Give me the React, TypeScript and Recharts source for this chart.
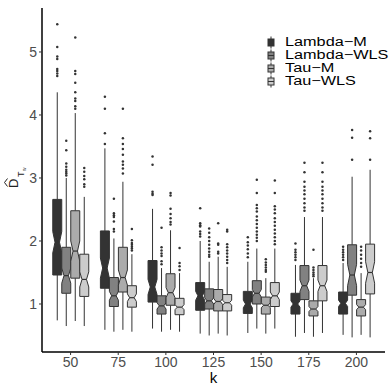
import { ComposedChart, Bar, XAxis, YAxis, Legend } from "recharts";

const ks = ["50", "75", "100", "125", "150", "175", "200"];
const yTicks = [1, 2, 3, 4, 5];
const seriesNames = ["Lambda−M", "Lambda−WLS", "Tau−M", "Tau−WLS"];
const seriesKeys = ["lm", "lw", "tm", "tw"];
const fills = ["#333333", "#818181", "#ababab", "#cccccc"];

// per k: [lower whisker, q1, median, q3, upper whisker, notch half-width]
const lambdaM = [
  [0.74, 1.46, 1.98, 2.66, 4.36, 0.17],
  [0.59, 1.25, 1.57, 2.16, 3.47, 0.16],
  [0.61, 1.03, 1.27, 1.69, 2.51, 0.12],
  [0.53, 0.9, 1.13, 1.34, 2.0, 0.07],
  [0.54, 0.85, 1.0, 1.2, 1.67, 0.06],
  [0.48, 0.84, 1.0, 1.17, 1.62, 0.05],
  [0.51, 0.84, 1.01, 1.19, 1.65, 0.05],
];
const lambdaWLS = [
  [0.65, 1.17, 1.45, 1.9, 3.0, 0.12],
  [0.56, 0.96, 1.13, 1.42, 2.04, 0.07],
  [0.56, 0.84, 0.97, 1.13, 1.57, 0.05],
  [0.5, 0.92, 1.05, 1.24, 1.67, 0.05],
  [0.61, 1.0, 1.17, 1.37, 1.88, 0.06],
  [0.54, 1.07, 1.29, 1.61, 2.38, 0.09],
  [0.47, 1.14, 1.46, 1.94, 3.02, 0.17],
];
const tauM = [
  [0.73, 1.41, 1.84, 2.48, 4.03, 0.16],
  [0.59, 1.19, 1.42, 1.9, 2.94, 0.12],
  [0.59, 0.98, 1.18, 1.48, 2.17, 0.08],
  [0.53, 0.89, 1.04, 1.23, 1.75, 0.05],
  [0.53, 0.84, 0.98, 1.11, 1.41, 0.04],
  [0.48, 0.81, 0.92, 1.05, 1.41, 0.04],
  [0.51, 0.81, 0.95, 1.07, 1.49, 0.04],
];
const tauWLS = [
  [0.65, 1.12, 1.39, 1.79, 2.7, 0.12],
  [0.56, 0.95, 1.1, 1.29, 1.79, 0.06],
  [0.56, 0.83, 0.95, 1.09, 1.49, 0.04],
  [0.5, 0.89, 1.02, 1.15, 1.59, 0.04],
  [0.61, 0.96, 1.13, 1.34, 1.88, 0.06],
  [0.54, 1.05, 1.29, 1.61, 2.38, 0.09],
  [0.47, 1.16, 1.5, 1.95, 3.13, 0.17],
];

const lambdaMOut = [
  [5.44, 5.08, 4.93, 4.89, 4.73, 4.7, 4.66, 4.62],
  [4.29, 4.1, 3.71, 3.54],
  [3.34, 3.21, 2.78, 2.75, 2.73],
  [2.52, 2.28, 2.25, 2.23, 2.15, 2.11, 2.07],
  [2.06, 1.98, 1.93, 1.87, 1.8, 1.74],
  [1.96, 1.86, 1.82, 1.78, 1.74, 1.7],
  [1.91, 1.86, 1.82, 1.78, 1.74, 1.7],
];
const lambdaWLSOut = [
  [3.59, 3.44, 3.23, 3.18, 3.13, 3.1, 3.07, 3.04],
  [2.67, 2.44, 2.41, 2.38, 2.31, 2.19, 2.15],
  [2.21, 1.9, 1.85, 1.8, 1.76, 1.68, 1.63],
  [2.2, 2.13, 2.06, 2.0, 1.94, 1.88, 1.83, 1.78, 1.75],
  [2.97, 2.76, 2.57, 2.52, 2.47, 2.39, 2.33, 2.27, 2.21, 2.15, 2.1, 2.05, 2.0],
  [3.24, 3.09, 2.94, 2.86, 2.8, 2.74, 2.67, 2.6, 2.53, 2.48],
  [3.76, 3.64, 3.29],
];
const tauMOut = [
  [5.23, 4.7, 4.65, 4.51, 4.36, 4.26, 4.22, 4.14, 4.1],
  [4.1, 3.63, 3.54, 3.46, 3.37, 3.26, 3.21, 3.15, 3.07],
  [2.76, 2.72, 2.51, 2.43, 2.36, 2.3, 2.26],
  [2.28, 1.96, 1.94, 1.83, 1.8],
  [1.71, 1.66, 1.62, 1.58, 1.54, 1.51],
  [1.86, 1.58, 1.54, 1.5, 1.47, 1.44],
  [1.91, 1.85, 1.78, 1.72, 1.65, 1.59],
];
const tauWLSOut = [
  [3.16, 3.1, 3.03, 2.98, 2.9, 2.86],
  [2.19, 2.01, 1.97, 1.94, 1.91, 1.88, 1.85],
  [1.89, 1.65, 1.6, 1.54],
  [2.18, 2.15, 1.95, 1.9, 1.85, 1.8, 1.75, 1.7, 1.65],
  [2.96, 2.76, 2.55, 2.5, 2.44, 2.36, 2.3, 2.24, 2.18, 2.12, 2.06, 2.0, 1.95],
  [3.24, 3.09, 2.94, 2.86, 2.8, 2.74, 2.67, 2.6, 2.53, 2.48],
  [3.74, 3.63, 3.29],
];

const stats = [lambdaM, lambdaWLS, tauM, tauWLS];
const outliers = [lambdaMOut, lambdaWLSOut, tauMOut, tauWLSOut];

// each bar spans the whisker range, the box is drawn inside it
const rows = ks.map((k, i) => {
  const r: any = { k };
  seriesKeys.forEach((key, s) => {
    r[key] = [stats[s][i][0], stats[s][i][4]];
  });
  return r;
});

const EDGE = "#333333";

function BoxShape(props: any) {
  const { x, y, width, height, index, s } = props;
  const [lo, q1, med, q3, hi, nh] = stats[s][index];
  const py = (v: number) => y + (height * (hi - v)) / (hi - lo);
  const cx = x + width / 2;
  const x0 = x;
  const x1 = x + width;
  const nw = width * 0.25;
  const pts = [
    [x0, py(q3)],
    [x0, py(med + nh)],
    [x0 + nw, py(med)],
    [x0, py(med - nh)],
    [x0, py(q1)],
    [x1, py(q1)],
    [x1, py(med - nh)],
    [x1 - nw, py(med)],
    [x1, py(med + nh)],
    [x1, py(q3)],
  ]
    .map((p) => p.join(","))
    .join(" ");
  return (
    <g>
      <line x1={cx} x2={cx} y1={py(hi)} y2={py(q3)} stroke={EDGE} strokeWidth={1} />
      <line x1={cx} x2={cx} y1={py(q1)} y2={py(lo)} stroke={EDGE} strokeWidth={1} />
      <polygon points={pts} fill={fills[s]} stroke={EDGE} strokeWidth={1} />
      <line x1={x0 + nw} x2={x1 - nw} y1={py(med)} y2={py(med)} stroke={EDGE} strokeWidth={1.2} />
      {outliers[s][index].map((v, j) => (
        <circle key={j} cx={cx} cy={py(v)} r={1.25} fill={EDGE} />
      ))}
    </g>
  );
}

function LegendBox(props: any) {
  const items = props.payload && props.payload.length ? props.payload : [];
  return (
    <div style={{ fontSize: 12.5, lineHeight: "13.1px", color: "#000", fontFamily: "'Liberation Sans', Arial, sans-serif" }}>
      {seriesNames.map((name, i) => (
        <div key={name} style={{ display: "flex", alignItems: "center", height: 13.1 }}>
          <svg width={10} height={13} style={{ marginRight: 9, flexShrink: 0 }}>
            <line x1={5} x2={5} y1={0.5} y2={12.5} stroke={EDGE} />
            <rect x={2} y={3} width={6} height={7} fill={(items[i] && items[i].color) || fills[i]} stroke={EDGE} />
            <line x1={2} x2={8} y1={6.5} y2={6.5} stroke={EDGE} />
          </svg>
          <span style={{ display: "inline-block", whiteSpace: "nowrap", transform: "scaleX(1.3)", transformOrigin: "left center" }}>
            {name}
          </span>
        </div>
      ))}
    </div>
  );
}

function YLabel() {
  return (
    <g transform="translate(18,188) rotate(-90)" fill="#222">
      <text x={0} y={0} fontSize={13}>D</text>
      <path d="M1.5 -10.5 L5.5 -13.5 L9.5 -10.5" fill="none" stroke="#222" strokeWidth={1} />
      <text x={11} y={6} fontSize={9}>T</text>
      <text x={17} y={7.5} fontSize={5}>w</text>
    </g>
  );
}

export default function App() {
  return (
    <div style={{ position: "absolute", left: 0, top: 0, fontFamily: "'Liberation Sans', Arial, sans-serif", background: "#fff" }}>
      <ComposedChart
        width={390}
        height={390}
        data={rows}
        margin={{ top: 8, right: 5, bottom: 0, left: 0 }}
        barGap={0}
        barSize={9}
      >
        <XAxis
          dataKey="k"
          height={38}
          padding={{ left: 4.76, right: 4.76 }}
          tickSize={3}
          tick={{ fill: "#4d4d4d", fontSize: 14 }}
          tickLine={{ stroke: "#333" }}
          axisLine={{ stroke: "#000", strokeWidth: 1.5 }}
          label={{ value: "k", position: "insideBottom", offset: 7, fill: "#000", fontSize: 15 }}
        />
        <XAxis
          xAxisId="top"
          orientation="top"
          dataKey="k"
          height={0}
          tick={false}
          tickLine={false}
          axisLine={{ stroke: "#333", strokeWidth: 1 }}
        />
        <YAxis
          width={42}
          domain={[0.238, 5.698]}
          ticks={yTicks}
          allowDataOverflow
          tickSize={3}
          tick={{ fill: "#4d4d4d", fontSize: 14 }}
          tickLine={{ stroke: "#333" }}
          axisLine={{ stroke: "#000", strokeWidth: 1.5 }}
          label={YLabel}
        />
        <YAxis
          yAxisId="r"
          orientation="right"
          width={0}
          tick={false}
          tickLine={false}
          axisLine={{ stroke: "#555", strokeWidth: 1 }}
        />
        <Legend
          layout="vertical"
          align="center"
          verticalAlign="middle"
          content={LegendBox}
          wrapperStyle={{ left: 266, top: 36, width: 124 }}
        />
        {seriesKeys.map((key, s) => (
          <Bar
            key={key}
            dataKey={key}
            name={seriesNames[s]}
            fill={fills[s]}
            isAnimationActive={false}
            shape={(p: any) => <BoxShape {...p} s={s} />}
          />
        ))}
      </ComposedChart>
    </div>
  );
}
